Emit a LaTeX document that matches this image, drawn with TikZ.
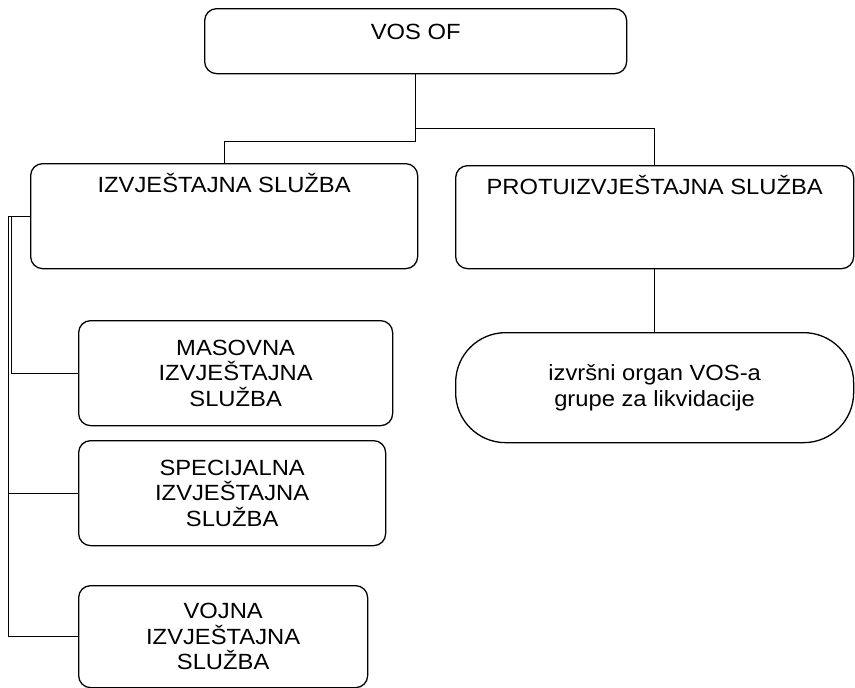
\documentclass[tikz,border=0pt]{standalone}
\usepackage{fontspec}
\setmainfont{Liberation Sans}[FakeStretch=1.08]

\begin{document}
\begin{tikzpicture}[
  x=1pt, y=-1pt,
  font=\fontsize{22pt}{25.5pt}\selectfont,
  box/.style={draw, line width=1.3pt, rounded corners=12pt, anchor=north west, inner xsep=0pt},
  topbox/.style={box, text height=16pt, inner ysep=13pt},
  listbox/.style={box, align=center, minimum height=105pt},
  conn/.style={line width=0.9pt}
]
\useasboundingbox (0,0) rectangle (855,688);

\node [topbox, minimum width=422pt, inner ysep=15pt, text depth=19pt] (vos) at (204,8) {VOS OF};
\node [topbox, minimum width=387pt, text depth=63pt] (izv) at (30,163) {IZVJEŠTAJNA SLUŽBA};
\node [topbox, minimum width=398pt, text depth=61pt] (protu) at (455,165) {PROTUIZVJEŠTAJNA SLUŽBA};

\node [listbox, minimum width=314pt] (masovna) at (78,320) {MASOVNA\\IZVJEŠTAJNA\\SLUŽBA};
\node [listbox, minimum width=307pt] (spec) at (78,440) {SPECIJALNA\\IZVJEŠTAJNA\\SLUŽBA};
\node [listbox, minimum width=289pt, minimum height=102pt] (vojna) at (78,585) {VOJNA\\IZVJEŠTAJNA\\SLUŽBA};

\node [box, align=center, rounded corners=50pt, minimum width=398pt, minimum height=110pt] (organ) at (455,332) {izvršni organ VOS-a\\grupe za likvidacije};

\draw [conn] (vos.south) -- ++(0,67) -| (izv.north);
\draw [conn] (vos.south |- 0,128) -| (protu.north);
\draw [conn] (protu.south) -- (organ.north);

\draw [conn] (izv.west) -- ++(-19,0) |- (masovna.west);
\draw [conn] (izv.west) -- ++(-22,0) |- (spec.west);
\draw [conn] (izv.west) -- ++(-22,0) |- (vojna.west);
\end{tikzpicture}
\end{document}
